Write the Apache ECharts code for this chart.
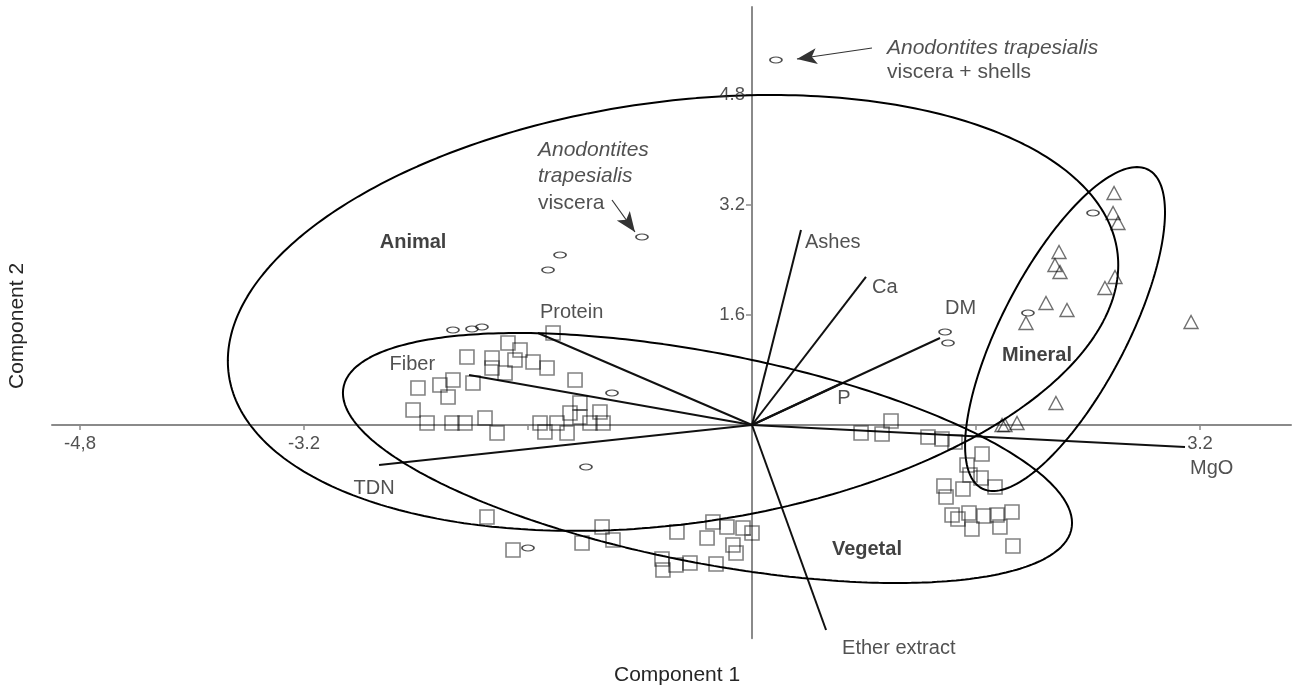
<!DOCTYPE html>
<html>
<head>
<meta charset="utf-8">
<script src="https://cdn.jsdelivr.net/npm/echarts@6/dist/echarts.min.js"></script>
<style>
html,body{margin:0;padding:0;background:#fff;}
#chart{width:1292px;height:688px;}
</style>
</head>
<body>
<div id="chart"></div>
<script>
// ---------- DATA ----------
// Animal samples (oval markers)
const animal = [
  [0.171, 5.309], [-0.786, 2.735], [-1.371, 2.473], [-1.457, 2.255],
  [-2.136, 1.382], [-2.0, 1.396], [-1.929, 1.425], [-1.0, 0.465],
  [-1.186, -0.611], [-1.6, -1.789], [1.379, 1.353], [1.4, 1.193],
  [2.436, 3.084], [1.971, 1.629]
];
// Vegetal samples (squares)
const vegetal = [
  [-1.421, 1.338], [-1.743, 1.193], [-1.657, 1.091], [-1.693, 0.945], [-1.564, 0.916],
  [-1.464, 0.829], [-1.764, 0.756], [-1.857, 0.975], [-1.857, 0.829], [-2.036, 0.989],
  [-2.136, 0.655], [-2.229, 0.582], [-2.386, 0.538], [-2.171, 0.407], [-1.993, 0.611],
  [-1.264, 0.655], [-1.229, 0.32], [-2.421, 0.218], [-2.321, 0.029], [-2.143, 0.029],
  [-2.05, 0.029], [-1.907, 0.102], [-1.821, -0.116], [-1.514, 0.029], [-1.479, -0.102],
  [-1.393, 0.029], [-1.321, -0.116], [-1.3, 0.175], [-1.229, 0.116], [-1.157, 0.029],
  [-1.086, 0.189], [-1.064, 0.029],
  [-1.893, -1.338], [-1.707, -1.818], [-1.214, -1.716], [-1.071, -1.484], [-0.993, -1.673],
  [-0.643, -1.949], [-0.636, -2.109], [-0.543, -2.036], [-0.443, -2.007], [-0.536, -1.556],
  [-0.321, -1.644], [-0.279, -1.411], [-0.179, -1.484], [-0.064, -1.498], [0.0, -1.571],
  [-0.136, -1.745], [-0.114, -1.862], [-0.257, -2.022],
  [0.993, 0.058], [0.779, -0.116], [0.929, -0.131], [1.257, -0.175], [1.357, -0.204],
  [1.45, -0.247], [1.643, -0.422], [1.536, -0.582], [1.557, -0.727], [1.636, -0.771],
  [1.736, -0.902], [1.371, -0.887], [1.386, -1.047], [1.507, -0.931], [1.429, -1.309],
  [1.471, -1.367], [1.55, -1.28], [1.571, -1.513], [1.657, -1.324], [1.75, -1.309],
  [1.771, -1.484], [1.857, -1.265], [1.864, -1.76]
];
// Mineral samples (triangles)
const mineral = [
  [2.586, 3.375], [2.579, 3.084], [2.614, 2.938], [2.193, 2.516], [2.164, 2.327],
  [2.2, 2.225], [2.593, 2.153], [2.521, 1.993], [2.1, 1.775], [2.25, 1.673],
  [1.957, 1.484], [3.136, 1.498], [2.171, 0.32], [1.786, 0.0], [1.807, 0.0], [1.893, 0.029]
];
// Variable loadings (biplot vectors)
const loadNames = ['Ashes', 'Ca', 'DM', 'P', 'Protein', 'Fiber', 'TDN', 'MgO', 'Ether extract'];
const loadX = [0.35, 0.814, 1.343, 0.643, -1.529, -2.021, -2.664, 3.093, 0.529];
const loadY = [2.836, 2.153, 1.265, 0.611, 1.338, 0.727, -0.582, -0.32, -2.982];
// Group ellipses: centre, spreads and correlation
const groupNames = ['Animal', 'Vegetal', 'Mineral'];
const ellCx = [-0.564, -0.318, 2.236];
const ellCy = [1.63, -0.48, 1.396];
const ellRx = [3.18, 2.604, 0.714];
const ellRy = [3.17, 1.818, 2.356];
const ellRho = [0.22, -0.52, 0.72];
// Tick positions and labelled ticks
const xTicks = [-4.8, -3.2, -1.6, 1.6, 3.2];
const xTickLabels = [-4.8, -3.2, 3.2];
const xTickText = ['-4,8', '-3.2', '3.2'];
const yTicks = [-1.6, 1.6, 3.2, 4.8];
const yTickLabels = [1.6, 3.2, 4.8];
const yTickText = ['1.6', '3.2', '4.8'];

// ---------- LAYOUT ----------
const FONT = '"Liberation Sans", Arial, sans-serif';
const TXT = '#262626';
const loadLabelLayout = {
  'Ashes': {position: 'right', distance: 4, offset: [0, 12]},
  'Ca': {position: 'right', distance: 6, offset: [0, 11]},
  'DM': {position: 'right', distance: 5, offset: [0, -30]},
  'P': {position: 'bottom', distance: 5, offset: [2, 0]},
  'Protein': {position: 'right', distance: 2, offset: [0, -21]},
  'Fiber': {position: 'left', distance: 34, offset: [0, -11]},
  'TDN': {position: 'bottom', distance: 13, offset: [-5, 0]},
  'MgO': {position: 'right', distance: 5, offset: [0, 21]},
  'Ether extract': {position: 'right', distance: 16, offset: [0, 18]}
};
const groupLabelPos = {
  'Animal': [-2.421, 2.662],
  'Vegetal': [0.821, -1.804],
  'Mineral': [2.036, 1.018]
};

function ellipsePts(i) {
  const pts = [];
  const s = Math.sqrt(1 - ellRho[i] * ellRho[i]);
  const n = 360;
  for (let k = 0; k <= n; k++) {
    const t = 2 * Math.PI * k / n;
    pts.push([ellCx[i] + ellRx[i] * Math.cos(t),
              ellCy[i] + ellRy[i] * (ellRho[i] * Math.cos(t) + s * Math.sin(t))]);
  }
  return pts;
}

const chart = echarts.init(document.getElementById('chart'), null, {renderer: 'canvas'});

const series = [];
groupNames.forEach((g, i) => {
  series.push({
    type: 'line', name: g + ' ellipse', data: ellipsePts(i),
    showSymbol: false, symbol: 'none', smooth: false, silent: true,
    lineStyle: {color: '#000', width: 2}, z: 3
  });
});
series.push({
  type: 'lines', coordinateSystem: 'cartesian2d', silent: true, z: 3,
  lineStyle: {color: '#111', width: 2, opacity: 1},
  data: loadNames.map((n, i) => ({coords: [[0, 0], [loadX[i], loadY[i]]]}))
});
series.push({
  type: 'scatter', name: 'loading labels', symbolSize: 0, silent: true, z: 5,
  data: loadNames.map((n, i) => ({
    value: [loadX[i], loadY[i]], name: n,
    label: Object.assign({show: true, formatter: n, color: TXT, fontSize: 20, fontFamily: FONT}, loadLabelLayout[n])
  }))
});
// tick labels, drawn on the axes through the origin
series.push({
  type: 'scatter', name: 'x tick labels', symbolSize: 0, silent: true, z: 5,
  data: xTickLabels.map((v, i) => ({
    value: [v, 0],
    label: {show: true, position: 'bottom', distance: 9, formatter: xTickText[i], color: TXT, fontSize: 18.5, fontFamily: FONT}
  }))
});
series.push({
  type: 'scatter', name: 'y tick labels', symbolSize: 0, silent: true, z: 5,
  data: yTickLabels.map((v, i) => ({
    value: [0, v],
    label: {show: true, position: 'left', distance: 7, formatter: yTickText[i], color: TXT, fontSize: 18.5, fontFamily: FONT}
  }))
});
series.push({
  type: 'scatter', name: 'Vegetal', data: vegetal, symbol: 'rect', symbolSize: 14, z: 4,
  itemStyle: {color: 'rgba(255,255,255,0)', borderColor: 'rgba(0,0,0,0.62)', borderWidth: 1.6}
});
series.push({
  type: 'scatter', name: 'Mineral', data: mineral, symbol: 'triangle', symbolSize: [14, 13], z: 4,
  itemStyle: {color: 'rgba(255,255,255,0)', borderColor: 'rgba(0,0,0,0.7)', borderWidth: 1.4}
});
series.push({
  type: 'scatter', name: 'Animal', data: animal, symbol: 'circle', symbolSize: [12, 6], z: 4,
  itemStyle: {color: 'rgba(255,255,255,0)', borderColor: '#222', borderWidth: 1.3}
});
series.push({
  type: 'scatter', name: 'group labels', symbolSize: 0, silent: true, z: 6,
  data: groupNames.map(g => ({
    value: groupLabelPos[g], name: g,
    label: {show: true, position: 'inside', formatter: g, color: '#111', fontSize: 20, fontWeight: 'bold', fontFamily: FONT}
  }))
});
// annotations with arrows
series.push({
  type: 'scatter', name: 'notes', symbolSize: 0, silent: true, z: 6,
  data: [
    {value: [-1.529, 4.189], label: {show: true, position: [0, 0], align: 'left', verticalAlign: 'top',
      formatter: '{i|Anodontites}\n{i|trapesialis}\n{n|viscera}',
      rich: {i: {fontStyle: 'italic', fontSize: 21, lineHeight: 26, color: TXT, fontFamily: FONT},
             n: {fontSize: 21, lineHeight: 28, color: TXT, fontFamily: FONT}}}},
    {value: [0.964, 5.658], label: {show: true, position: [0, 0], align: 'left', verticalAlign: 'top',
      formatter: '{i|Anodontites trapesialis}\n{n|viscera + shells}',
      rich: {i: {fontStyle: 'italic', fontSize: 21, lineHeight: 24, color: TXT, fontFamily: FONT},
             n: {fontSize: 21, lineHeight: 24, color: TXT, fontFamily: FONT}}}}
  ],
  markLine: {
    silent: true, symbol: ['none', 'arrow'], symbolSize: [12, 20],
    label: {show: false},
    lineStyle: {color: '#333', width: 1.2, type: 'solid'},
    itemStyle: {color: '#000'},
    data: [
      [{coord: [-1.0, 3.273]}, {coord: [-0.836, 2.807]}],
      [{coord: [0.857, 5.484]}, {coord: [0.321, 5.324]}]
    ]
  }
});

const axisColor = '#8a8a8a';
const option = {
  animation: false,
  backgroundColor: '#fff',
  grid: {left: 52, right: 1, top: 7, bottom: 49.875, containLabel: false},
  xAxis: {
    type: 'value', min: -5, max: 3.85,
    axisLine: {show: true, onZero: true, lineStyle: {color: axisColor, width: 2}},
    axisTick: {show: true, length: 5, customValues: xTicks, lineStyle: {color: axisColor, width: 1.5}},
    axisLabel: {show: false},
    splitLine: {show: false}
  },
  yAxis: {
    type: 'value', min: -3.1, max: 6.08,
    axisLine: {show: true, onZero: true, lineStyle: {color: axisColor, width: 2}},
    axisTick: {show: true, length: 6, customValues: yTicks, lineStyle: {color: axisColor, width: 1.5}},
    axisLabel: {show: false},
    splitLine: {show: false}
  },
  graphic: [
    {type: 'text', left: 677 - 63, top: 665, style: {text: 'Component 1', fill: TXT, font: '21px ' + FONT}},
    {type: 'text', x: 7, y: 389, rotation: Math.PI / 2, style: {text: 'Component 2', fill: TXT, font: '21px ' + FONT}}
  ],
  series: series
};
chart.setOption(option);
</script>
</body>
</html>
